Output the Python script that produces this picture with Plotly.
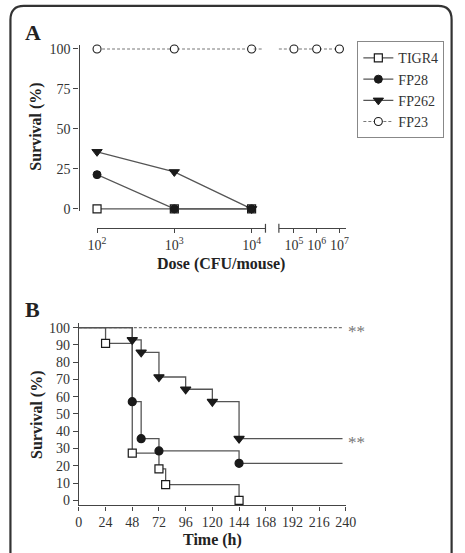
import plotly.graph_objects as go

W, H = 465, 553

# ---------------- data ----------------
doses_low = [1e2, 1e3, 1e4]
doses_high = [1e5, 1e6, 1e7]
dose_ticks_low = [1e2, 1e3, 1e4]
dose_ticks_high = [1e5, 1e6, 1e7]
dose_ticktext_low = ["10<sup>2</sup>", "10<sup>3</sup>", "10<sup>4</sup>"]
dose_ticktext_high = ["10<sup>5</sup>", "10<sup>6</sup>", "10<sup>7</sup>"]
tigr4_dose = [0, 0, 0]
fp28_dose = [21.4, 0, 0]
fp262_dose = [35.7, 23.1, 0]
fp23_dose_low = [100, 100, 100]
fp23_dose_high = [100, 100, 100]

tigr4_t = [0, 24, 48, 72, 78, 144]
tigr4_s = [100, 90.9, 27.3, 18.2, 9.1, 0]
fp28_t = [0, 48, 56, 72, 144, 237]
fp28_s = [100, 57.1, 35.7, 28.6, 21.4, 21.4]
fp262_t = [0, 48, 56, 72, 96, 120, 144, 237]
fp262_s = [100, 92.9, 85.7, 71.4, 64.3, 57.1, 35.7, 35.7]
fp23_t = [0, 237]
fp23_s = [100, 100]
# event markers (exclude start and censor end)
tigr4_mk = (tigr4_t[1:], tigr4_s[1:])
fp28_mk = (fp28_t[1:-1], fp28_s[1:-1])
fp262_mk = (fp262_t[1:-1], fp262_s[1:-1])

time_ticks = list(range(0, 241, 24))
surv_ticks_A = [0, 25, 50, 75, 100]
surv_ticks_B = list(range(0, 101, 10))

# ---------------- helpers ----------------
def px(x):
    return x / W

def py(y):
    return 1 - y / H

FONT = "Liberation Serif"
LINE = "#555555"
MK = "#1a1a1a"
DASHC = "#777777"
TICKF = dict(family=FONT, size=14, color="#333333")
MS = 8

fig = go.Figure()

# ---------------- Panel A ----------------
fig.add_trace(go.Scatter(x=doses_low, y=tigr4_dose, mode="lines+markers", name="TIGR4",
                         xaxis="x", yaxis="y", cliponaxis=False,
                         line=dict(color=LINE, width=1.3),
                         marker=dict(symbol="square", size=MS, color="white",
                                     line=dict(color=MK, width=1.2))))
fig.add_trace(go.Scatter(x=doses_low, y=fp28_dose, mode="lines+markers", name="FP28",
                         xaxis="x", yaxis="y", cliponaxis=False,
                         line=dict(color=LINE, width=1.3),
                         marker=dict(symbol="circle", size=MS, color=MK,
                                     line=dict(color=MK, width=1))))
fig.add_trace(go.Scatter(x=doses_low, y=fp262_dose, mode="lines+markers", name="FP262",
                         xaxis="x", yaxis="y", cliponaxis=False,
                         line=dict(color=LINE, width=1.3),
                         marker=dict(symbol="triangle-down", size=MS + 1, color=MK,
                                     line=dict(color=MK, width=1))))
fig.add_trace(go.Scatter(x=doses_low, y=fp23_dose_low, mode="lines+markers", name="FP23",
                         xaxis="x", yaxis="y", cliponaxis=False,
                         line=dict(color=DASHC, width=1.1, dash="3px,2px"),
                         marker=dict(symbol="circle", size=MS, color="white",
                                     line=dict(color=MK, width=1.1))))
fig.add_trace(go.Scatter(x=doses_high, y=fp23_dose_high, mode="lines+markers", name="FP23",
                         xaxis="x2", yaxis="y", cliponaxis=False, showlegend=False,
                         line=dict(color=DASHC, width=1.1, dash="3px,2px"),
                         marker=dict(symbol="circle", size=MS, color="white",
                                     line=dict(color=MK, width=1.1))))

# ---------------- Panel B ----------------
fig.add_trace(go.Scatter(x=fp23_t, y=fp23_s, mode="lines", xaxis="x3", yaxis="y2",
                         showlegend=False, line=dict(color=DASHC, width=1.1, dash="3px,2px")))
for t, s, mk, sym, fill, size in [
    (tigr4_t, tigr4_s, tigr4_mk, "square", "white", MS),
    (fp28_t, fp28_s, fp28_mk, "circle", MK, MS),
    (fp262_t, fp262_s, fp262_mk, "triangle-down", MK, MS + 1),
]:
    fig.add_trace(go.Scatter(x=t, y=s, mode="lines", line_shape="hv", xaxis="x3", yaxis="y2",
                             showlegend=False, line=dict(color=LINE, width=1.3)))
    fig.add_trace(go.Scatter(x=mk[0], y=mk[1], mode="markers", xaxis="x3", yaxis="y2",
                             showlegend=False, cliponaxis=False,
                             marker=dict(symbol=sym, size=size, color=fill,
                                         line=dict(color=MK, width=1.2))))

# ---------------- axes ----------------
axis_common = dict(showline=True, linecolor="#444444", linewidth=1.3, ticks="outside",
                   tickcolor="#444444", tickwidth=1.2, tickfont=TICKF, showgrid=False,
                   zeroline=False)

fig.update_layout(
    width=W, height=H,
    margin=dict(l=0, r=0, t=0, b=0),
    paper_bgcolor="white", plot_bgcolor="rgba(0,0,0,0)",
    font=dict(family=FONT, color="#222222"),
    xaxis=dict(axis_common, type="log", domain=[px(92), px(268)],
               range=[2, 2 + 176 / 80.75], anchor="free", position=py(229),
               tickvals=dose_ticks_low, ticktext=dose_ticktext_low, ticklen=4),
    xaxis2=dict(axis_common, type="log", domain=[px(282), px(352)],
                range=[5 - 15.7 / 23.65, 7 + 6.7 / 23.65], anchor="free", position=py(229),
                tickvals=dose_ticks_high, ticktext=dose_ticktext_high, ticklen=4),
    yaxis=dict(axis_common, domain=[py(211), py(43)], range=[-1.05, 102.3],
               anchor="free", position=px(72.7), tickvals=surv_ticks_A, ticklen=5),
    xaxis3=dict(axis_common, domain=[px(73), px(352)], range=[0, 240], anchor="y2",
                tickvals=time_ticks, ticklen=4),
    yaxis2=dict(axis_common, domain=[py(510.7), py(325)], range=[-2.96, 102.85],
                anchor="x3", tickvals=surv_ticks_B, ticklen=5),
    legend=dict(x=px(364), y=py(39), xanchor="left", yanchor="top",
                bordercolor="#888888", borderwidth=1, bgcolor="white",
                font=dict(family=FONT, size=14, color="#333333"),
                tracegroupgap=0),
    showlegend=True,
)

ann = []
def label(text, x, y, size, bold=True, angle=0, color="#222222"):
    ann.append(dict(text=f"<b>{text}</b>" if bold else text, x=px(x), y=py(y),
                    xref="paper", yref="paper", showarrow=False, textangle=angle,
                    font=dict(family=FONT, size=size, color=color),
                    xanchor="center", yanchor="middle"))

label("A", 25, 30, 22)
label("B", 25, 312, 22)
label("Dose (CFU/mouse)", 222, 265, 16)
label("Survival (%)", 28, 126, 16, angle=-90)
label("Time (h)", 213, 546, 16)
label("Survival (%)", 29, 419, 16, angle=-90)
for yv in (fp23_s[-1], fp262_s[-1]):
    ann.append(dict(text="**", x=fp23_t[-1], y=yv, xref="x3", yref="y2",
                    showarrow=False, xanchor="left", yanchor="middle", xshift=3, yshift=-4,
                    font=dict(family=FONT, size=17, color="#777777")))
fig.update_layout(annotations=ann)

shapes = []
# axis break caps
for xc in (268, 282):
    shapes.append(dict(type="line", xref="paper", yref="paper", x0=px(xc), x1=px(xc),
                       y0=py(224.5), y1=py(233.5), line=dict(color="#444444", width=1.2)))
# dashed extensions of FP23 toward the axis break
shapes.append(dict(type="line", xref="x domain", yref="y", x0=0.93, x1=0.985, y0=100, y1=100,
                   line=dict(color=DASHC, width=1.1, dash="3px,2px")))
shapes.append(dict(type="line", xref="x2 domain", yref="y", x0=0.0, x1=0.18, y0=100, y1=100,
                   line=dict(color=DASHC, width=1.1, dash="3px,2px")))
# rounded frame
r = 14
x0, x1, y0, y1 = 1.5, 462.5, 3, 600
path = (f"M {px(x0)},{py(y1)} L {px(x0)},{py(y0 + r)} Q {px(x0)},{py(y0)} {px(x0 + r)},{py(y0)} "
        f"L {px(x1 - r)},{py(y0)} Q {px(x1)},{py(y0)} {px(x1)},{py(y0 + r)} L {px(x1)},{py(y1)}")
shapes.append(dict(type="path", xref="paper", yref="paper", path=path,
                   line=dict(color="#333333", width=2.2)))
fig.update_layout(shapes=shapes)

fig.write_html("out.html")
